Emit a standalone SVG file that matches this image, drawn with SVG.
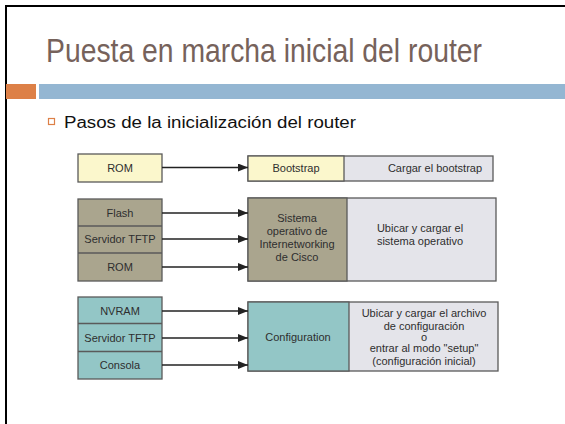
<svg xmlns="http://www.w3.org/2000/svg" width="565" height="424" viewBox="0 0 565 424">
<defs>
<marker id="ah" markerWidth="10" markerHeight="8" refX="10" refY="4" orient="auto" markerUnits="userSpaceOnUse">
<path d="M0,0 L10,4 L0,8 Z" fill="#222"/>
</marker>
<style>
.bx{stroke:#5a5a5a;stroke-width:1.3}
.yl{fill:#fbf7cc}
.kh{fill:#aaa58e}
.tl{fill:#93c6c6}
.gr{fill:#e4e4ea}
.t{font-family:"Liberation Sans",Arial,sans-serif;font-size:11px;fill:#2e2e2e;text-anchor:middle}
.cn line{stroke:#222;stroke-width:1.6;marker-end:url(#ah)}
</style>
</defs>
<rect width="565" height="424" fill="#fff"/>
<g id="frame">
<line x1="6" y1="6" x2="565" y2="6" stroke="#000" stroke-width="2"/>
<line x1="6" y1="5" x2="6" y2="424" stroke="#000" stroke-width="2"/>
</g>
<g id="title">
<text x="46" y="62" font-family="'Liberation Sans',Arial,sans-serif" font-size="33" fill="#76625b" textLength="436" lengthAdjust="spacingAndGlyphs">Puesta en marcha inicial del router</text>
</g>
<g id="bars">
<rect x="6" y="84" width="30" height="15" fill="#dd8047"/>
<rect x="39" y="84" width="526" height="15" fill="#94b6d2"/>
</g>
<g id="bullet">
<rect x="48.5" y="118.5" width="6" height="6" fill="none" stroke="#dd8047" stroke-width="1.2"/>
<text x="64" y="128" font-family="'Liberation Sans',Arial,sans-serif" font-size="16" fill="#111" textLength="292" lengthAdjust="spacingAndGlyphs">Pasos de la inicialización del router</text>
</g>
<g id="rom1">
<rect class="bx yl" x="78" y="154" width="84" height="28"/>
<text class="t" x="120" y="172">ROM</text>
</g>
<g id="bootstrap">
<rect class="bx gr" x="248" y="156" width="245" height="25"/>
<rect class="bx yl" x="248" y="156" width="96" height="25"/>
<text class="t" x="296" y="172">Bootstrap</text>
<text class="t" x="435" y="172">Cargar el bootstrap</text>
</g>
<g id="ios-sources">
<rect class="bx kh" x="78" y="199" width="84" height="82"/>
<line class="bx" x1="78" y1="226" x2="162" y2="226"/>
<line class="bx" x1="78" y1="253" x2="162" y2="253"/>
<text class="t" x="120" y="217">Flash</text>
<text class="t" x="120" y="243">Servidor TFTP</text>
<text class="t" x="120" y="271">ROM</text>
</g>
<g id="ios">
<rect class="bx gr" x="248" y="198" width="248" height="83"/>
<rect class="bx kh" x="248" y="198" width="99" height="83"/>
<text class="t" x="297" y="222">Sistema</text>
<text class="t" x="297" y="235">operativo de</text>
<text class="t" x="297" y="248">Internetworking</text>
<text class="t" x="297" y="261">de Cisco</text>
<text class="t" x="420" y="232">Ubicar y cargar el</text>
<text class="t" x="420" y="245">sistema operativo</text>
</g>
<g id="config-sources">
<rect class="bx tl" x="78" y="297" width="84" height="82"/>
<line class="bx" x1="78" y1="323.5" x2="162" y2="323.5"/>
<line class="bx" x1="78" y1="351.5" x2="162" y2="351.5"/>
<text class="t" x="120" y="315">NVRAM</text>
<text class="t" x="120" y="342">Servidor TFTP</text>
<text class="t" x="120" y="369">Consola</text>
</g>
<g id="config">
<rect class="bx gr" x="248" y="302" width="250" height="69"/>
<rect class="bx tl" x="248" y="302" width="101" height="69"/>
<text class="t" x="298" y="341">Configuration</text>
<text class="t" x="424" y="317">Ubicar y cargar el archivo</text>
<text class="t" x="424" y="330">de configuración</text>
<text class="t" x="424" y="341">o</text>
<text class="t" x="424" y="352">entrar al modo "setup"</text>
<text class="t" x="424" y="365">(configuración inicial)</text>
</g>
<g id="connectors" class="cn">
<line x1="162" y1="167.5" x2="248" y2="167.5"/>
<line x1="162" y1="213" x2="248" y2="213"/>
<line x1="162" y1="239" x2="248" y2="239"/>
<line x1="162" y1="267" x2="248" y2="267"/>
<line x1="162" y1="311" x2="248" y2="311"/>
<line x1="162" y1="338" x2="248" y2="338"/>
<line x1="162" y1="365" x2="248" y2="365"/>
</g>
</svg>
